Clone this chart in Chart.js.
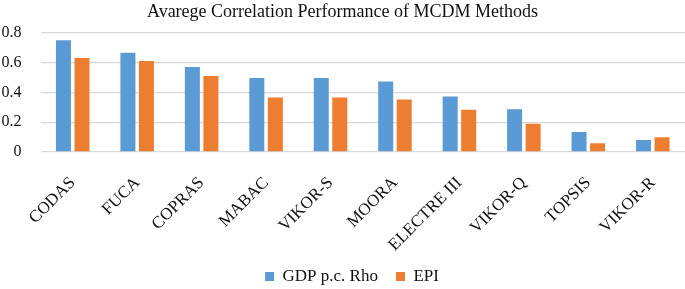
<!DOCTYPE html>
<html lang="en">
<head>
    <meta charset="UTF-8">
    <title>MCDM correlation</title>
    <style>
        body { margin: 0; background: #fff; }
        .grafico { width: 685px; height: 289px; }
    </style>
</head>
<body>
    <div class="grafico">
        <canvas id="myChart"></canvas>
    </div>

<script src="https://cdn.jsdelivr.net/npm/chart.js"></script>
<script>
    // dados
    const metodos = ['CODAS', 'FUCA', 'COPRAS', 'MABAC', 'VIKOR-S', 'MOORA', 'ELECTRE III', 'VIKOR-Q', 'TOPSIS', 'VIKOR-R'];
    const gdpRho = [0.749, 0.665, 0.569, 0.495, 0.495, 0.473, 0.372, 0.287, 0.134, 0.081];
    const epi = [0.629, 0.609, 0.510, 0.365, 0.365, 0.352, 0.283, 0.189, 0.059, 0.098];
    const yTicks = [0, 0.2, 0.4, 0.6, 0.8];

    const fonte = 'Liberation Serif, Times New Roman, serif';

    // empurra a legenda um pouco para a direita e para baixo, como no original
    // e deixa os rotulos do eixo x passarem da caixa do eixo sem serem cortados
    const ajustarLayout = {
        id: 'ajustarLayout',
        afterLayout(chart) {
            const lg = chart.legend;
            lg.left += 9.5;
            lg.right += 9.5;
            lg.top += 6;
            lg.bottom += 6;
            chart.scales.x.bottom += 30;
        }
    };

    const dados = {
        labels: metodos,
        datasets: [{
            label: 'GDP p.c. Rho',
            data: gdpRho,
            backgroundColor: '#5B9BD5'
        },
        {
            label: 'EPI',
            data: epi,
            backgroundColor: '#ED7D31'
        }]
    };

    const config = {
        type: 'bar',
        data: dados,
        plugins: [ajustarLayout],
        options: {
            responsive: true,
            maintainAspectRatio: false,
            animation: false,
            categoryPercentage: 0.575,
            barPercentage: 0.81,
            layout: { padding: 0 },
            plugins: {
                title: {
                    display: true,
                    text: 'Avarege Correlation Performance of MCDM Methods',
                    color: '#111',
                    font: { family: fonte, size: 18, weight: 'normal' },
                    padding: { top: 1, bottom: 10 }
                },
                legend: {
                    position: 'bottom',
                    labels: {
                        color: '#111',
                        boxWidth: 9,
                        boxHeight: 9,
                        padding: 18,
                        font: { family: fonte, size: 17 }
                    }
                },
                tooltip: { enabled: false }
            },
            scales: {
                y: {
                    min: 0,
                    max: 0.8,
                    afterBuildTicks: function (scale) {
                        scale.ticks = yTicks.map(v => ({ value: v }));
                    },
                    afterFit: function (scale) { scale.width = 40.5; },
                    grid: { color: '#d9d9d9', lineWidth: 1.3, drawTicks: false },
                    border: { display: false },
                    ticks: {
                        color: '#111',
                        padding: 19,
                        font: { family: fonte, size: 16 }
                    }
                },
                x: {
                    grid: { display: false, drawTicks: false },
                    border: { display: false },
                    afterFit: function (scale) {
                        scale.height = 92;
                        scale.paddingLeft = 0;
                        scale.paddingRight = 0;
                    },
                    ticks: {
                        color: '#111',
                        minRotation: 45,
                        maxRotation: 45,
                        autoSkip: false,
                        padding: 21,
                        font: { family: fonte, size: 17 }
                    }
                }
            }
        }
    };

    let myChart = new Chart(document.getElementById('myChart'), config);
</script>
</body>
</html>
